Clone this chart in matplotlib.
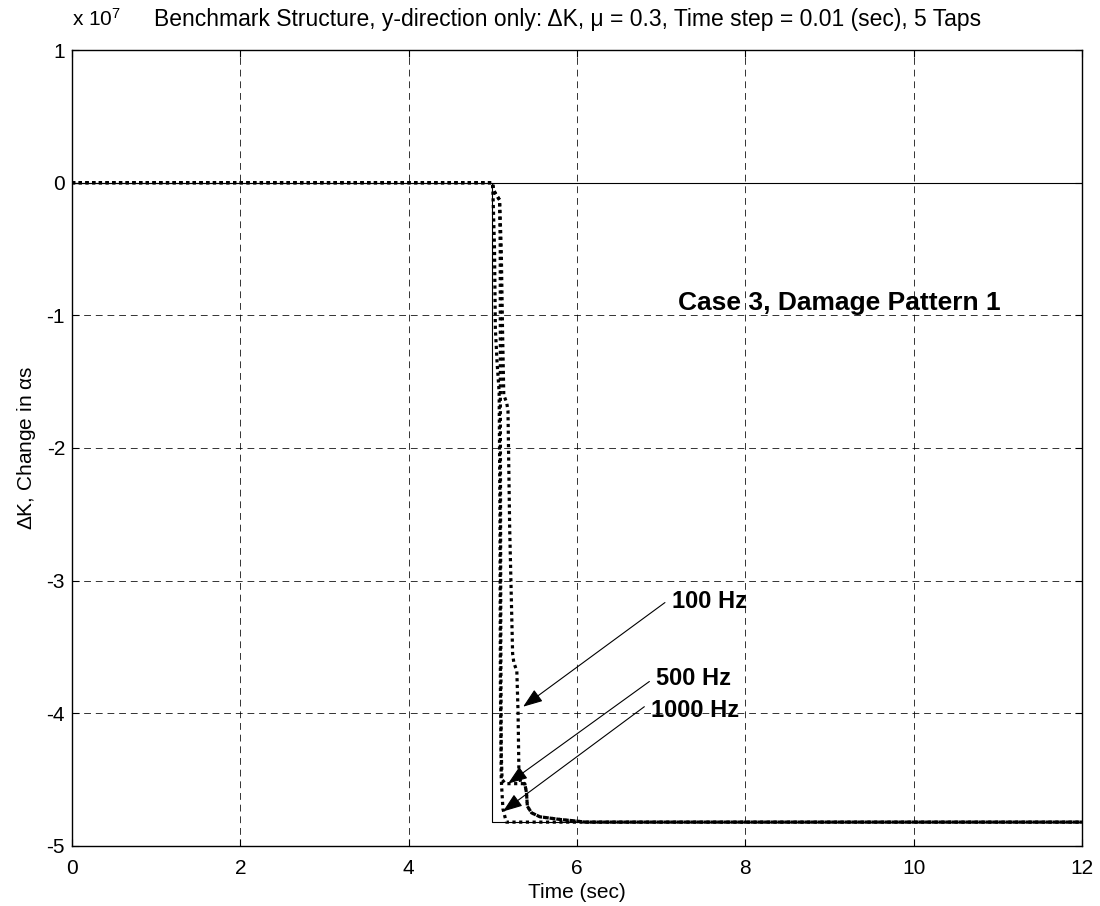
import matplotlib
matplotlib.use("Agg")
import matplotlib.pyplot as plt
from matplotlib.ticker import FuncFormatter

plt.rcParams['font.family'] = ['Liberation Sans', 'DejaVu Sans']
plt.rcParams['mathtext.fontset'] = 'custom'
plt.rcParams['mathtext.rm'] = 'Liberation Sans'
plt.rcParams['mathtext.it'] = 'Liberation Sans'

SCALE = 1e7

# Ideal stiffness change: zero until damage at t = 5 s, then a step down
t_true = [0.0, 4.99, 4.99, 12.0]
k_true = [0.0, 0.0, -4.82, -4.82]

# Identified change for the three sampling rates (units of 1e7)
t_1000 = [0.0, 4.995, 5.0, 5.02, 5.03, 5.05, 5.075, 5.085, 5.09, 5.10, 5.12, 5.16, 12.0]
k_1000 = [0.0, 0.0, -0.05, -0.5, -1.1, -1.35, -1.58, -2.5, -3.8, -4.5, -4.72, -4.82, -4.82]

t_500 = [0.0, 4.995, 5.01, 5.08, 5.088, 5.09, 5.095, 5.10, 5.11, 5.15, 5.38, 5.40,
         5.41, 5.46, 5.56, 5.68, 5.80, 5.96, 6.1, 12.0]
k_500 = [0.0, 0.0, -0.06, -0.13, -0.5, -2.0, -3.5, -4.3, -4.5, -4.53, -4.53, -4.6,
         -4.70, -4.75, -4.78, -4.79, -4.80, -4.81, -4.82, -4.82]

t_100 = [0.0, 4.995, 5.01, 5.08, 5.10, 5.115, 5.13, 5.165, 5.18, 5.20, 5.235, 5.25,
         5.285, 5.30, 5.31, 5.33, 5.38, 5.40, 5.41, 5.46, 5.56, 5.68, 5.80, 5.96, 6.1, 12.0]
k_100 = [0.0, 0.0, -0.06, -0.13, -0.5, -1.1, -1.6, -1.66, -1.72, -2.6, -3.55, -3.62,
         -3.68, -4.0, -4.45, -4.52, -4.53, -4.6, -4.70, -4.75, -4.78, -4.79, -4.80,
         -4.81, -4.82, -4.82]

x_ticks = [0, 2, 4, 6, 8, 10, 12]
y_ticks = [-5, -4, -3, -2, -1, 0, 1]

fig = plt.figure(figsize=(11.0, 9.06), dpi=100)
ax = fig.add_axes([72 / 1100, 1 - 846 / 906, (1082 - 72) / 1100, (846 - 50) / 906])

dotted = dict(color='black', lw=2.3, linestyle=(0, (1.0, 1.1)),
              dash_capstyle='butt', solid_capstyle='butt')

ax.plot([0, 12], [0, 0], color='black', lw=0.8)
ax.plot(t_true, [v * SCALE for v in k_true], color='black', lw=0.8)
ax.plot(t_100, [v * SCALE for v in k_100], **dotted)
ax.plot(t_500, [v * SCALE for v in k_500], **dotted)
ax.plot(t_1000, [v * SCALE for v in k_1000], **dotted)

ax.set_xlim(0, 12)
ax.set_ylim(-5 * SCALE, 1 * SCALE)
ax.set_xticks(x_ticks)
ax.set_yticks([v * SCALE for v in y_ticks])
ax.yaxis.set_major_formatter(FuncFormatter(lambda v, p: f"{v / SCALE:g}"))
ax.tick_params(direction='in', length=5, width=0.8, labelsize=15,
               top=True, right=True)
ax.tick_params(axis='x', pad=9)
ax.tick_params(axis='y', pad=5)
ax.grid(True, color='black', linestyle=(0, (7, 5)), lw=0.7, alpha=0.8)
for s in ax.spines.values():
    s.set_linewidth(1.0)

ax.set_xlabel('Time (sec)', fontsize=15, labelpad=4)
ax.set_ylabel(r'$\Delta$K, Change in $\alpha$s', fontsize=15, labelpad=6)

fig.text(72 / 1100, 1 - 26 / 906, r'x 10$^{7}$', fontsize=15, ha='left', va='baseline')
fig.text(568 / 1100, 1 - 26 / 906,
         'Benchmark Structure, y-direction only: \u0394K, \u03bc = 0.3, '
         'Time step = 0.01 (sec), 5 Taps',
         fontsize=16.5, ha='center', va='baseline')

ax.text(9.12, -0.96 * SCALE, 'Case 3, Damage Pattern 1', fontsize=19,
        fontweight='bold', ha='center', va='baseline')

arrow = dict(arrowstyle='-|>,head_length=0.6,head_width=0.22', color='black',
             lw=0.8, shrinkA=0, shrinkB=0, mutation_scale=20)
labels = ['100 Hz', '500 Hz', '1000 Hz']
label_pos = [(7.13, -3.205), (6.94, -3.785), (6.88, -4.03)]
tail_pos = [(7.045, -3.165), (6.86, -3.76), (6.80, -3.95)]
tip_pos = [(5.36, -3.95), (5.18, -4.53), (5.12, -4.74)]
for lab, (lx, ly), (sx, sy), (ex, ey) in zip(labels, label_pos, tail_pos, tip_pos):
    ax.text(lx, ly * SCALE, lab, fontsize=17, fontweight='bold', ha='left', va='baseline')
    ax.annotate('', xy=(ex, ey * SCALE), xytext=(sx, sy * SCALE), arrowprops=arrow)

fig.savefig('out.png', dpi=100, facecolor='white')
